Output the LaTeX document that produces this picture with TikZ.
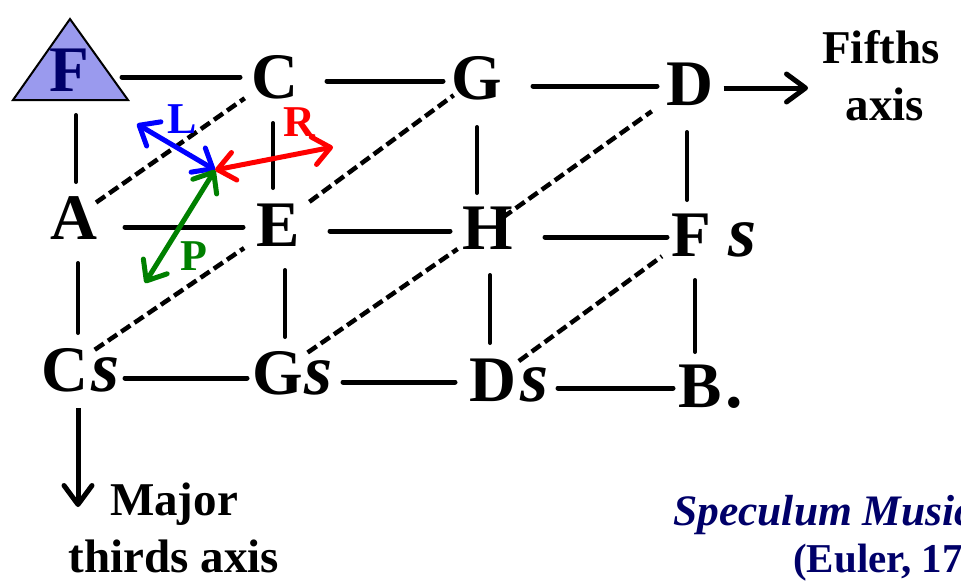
\documentclass[tikz,border=0pt]{standalone}
\usepackage{fontspec}
\setmainfont{Liberation Serif}
\usetikzlibrary{arrows.meta,calc}
\definecolor{navy}{RGB}{0,0,105}
\definecolor{trifill}{RGB}{154,154,238}
\definecolor{pgreen}{RGB}{0,128,0}
\tikzset{
  note/.style={inner sep=0pt, font=\fontsize{65}{65}\selectfont\bfseries},
  sfx/.style={inner sep=0pt, anchor=base west, font=\fontsize{72}{72}\selectfont\bfseries\itshape},
  dotsfx/.style={inner sep=0pt, anchor=base west, font=\fontsize{70}{70}\selectfont\bfseries},
  hl/.style={line width=5pt, line cap=round, transform canvas={yshift=#1}},
  vl/.style={line width=4pt, line cap=round, transform canvas={xshift=#1}},
  dline/.style={line width=4.5pt, dash pattern=on 11pt off 5pt},
  rel/.style={line width=5pt, line cap=round, <->, >={Straight Barb[length=17pt,width=28pt,round]}},
  rlabel/.style={inner sep=0pt, anchor=base, font=\fontsize{44}{44}\selectfont\bfseries},
  axisarrow/.style={line width=5pt, ->, >={Straight Barb[length=19pt,width=28pt,round]}},
  axislab/.style={inner sep=0pt, anchor=base, font=\fontsize{47}{56}\selectfont\bfseries},
  citeit/.style={inner sep=0pt, anchor=base west, text=navy, font=\fontsize{43.5}{50}\selectfont\bfseries\itshape},
  citeup/.style={inner sep=0pt, anchor=base west, text=navy, font=\fontsize{41}{48}\selectfont\bfseries},
  tri/.style={draw=black, line width=2pt, fill=trifill, line join=miter}
}
\begin{document}
\begin{tikzpicture}[x=1pt,y=-1pt]
\useasboundingbox (0,0) rectangle (961,584);
\clip (0,0) rectangle (961,584);
\fill[white] (0,0) rectangle (961,584);

% triangle around F
\filldraw[tri] (13,100) -- (70,19) -- (128,100) -- cycle;

% notes
\node[note, text=navy] (F) at (69,70) {F};
\node[note] (C) at (275,77) {C};
\node[note] (G) at (477,78) {G};
\node[note] (D) at (690,84) {D};
\node[note] (A) at (74,218) {A};
\node[note] (E) at (278,225) {E};
\node[note] (H) at (488,228) {H};
\node[note] (Fs) at (691,235) {F};
\node[note] (Cs) at (65,370) {C};
\node[note] (Gs) at (278,373) {G};
\node[note] (Ds) at (493,380) {D};
\node[note] (B) at (700,386) {B};
\node[sfx] (Fs-s) at ([xshift=17pt]Fs.base east) {s};
\node[sfx] (Cs-s) at ([xshift=3pt]Cs.base east) {s};
\node[sfx] (Gs-s) at ([xshift=1pt]Gs.base east) {s};
\node[sfx] (Ds-s) at ([xshift=4pt]Ds.base east) {s};
\node[dotsfx] (B-dot) at ([xshift=3pt]B.base east) {.};

% fifths (horizontal) lines
\draw[hl=-7pt, shorten <=53pt, shorten >=35pt] (F.center) -- (F.center -| C.center);
\draw[hl=-4pt, shorten <=52pt, shorten >=34pt] (C.center) -- (C.center -| G.center);
\draw[hl=-8pt, shorten <=56pt, shorten >=33pt] (G.center) -- (G.center -| D.center);
\draw[hl=-9pt, shorten <=51pt, shorten >=35pt] (A.center) -- (A.center -| E.center);
\draw[hl=-6pt, shorten <=52pt, shorten >=38pt] (E.center) -- (E.center -| H.center);
\draw[hl=-9pt, shorten <=57pt, shorten >=24pt] (H.center) -- (H.center -| Fs.center);
\draw[hl=-8pt, shorten <=60pt, shorten >=31pt] (Cs.center) -- (Cs.center -| Gs.center);
\draw[hl=-9pt, shorten <=65pt, shorten >=38pt] (Gs.center) -- (Gs.center -| Ds.center);
\draw[hl=-8pt, shorten <=65pt, shorten >=27pt] (Ds.center) -- (Ds.center -| B.center);

% major third (vertical) lines
\draw[vl=7pt, shorten <=45pt, shorten >=36pt] (F.center) -- (F.center |- A.center);
\draw[vl=-2pt, shorten <=46pt, shorten >=37pt] (C.center) -- (C.center |- E.center);
\draw[vl=0pt, shorten <=49pt, shorten >=35pt] (G.center) -- (G.center |- H.center);
\draw[vl=-3pt, shorten <=48pt, shorten >=35pt] (D.center) -- (D.center |- Fs.center);
\draw[vl=4pt, shorten <=45pt, shorten >=37pt] (A.center) -- (A.center |- Cs.center);
\draw[vl=7pt, shorten <=45pt, shorten >=36pt] (E.center) -- (E.center |- Gs.center);
\draw[vl=2pt, shorten <=47pt, shorten >=37pt] (H.center) -- (H.center |- Ds.center);
\draw[vl=4pt, shorten <=45pt, shorten >=34pt] (Fs.center) -- (Fs.center |- B.center);

% minor third (dashed diagonal) lines
\draw[dline, shorten <=27pt, shorten >=37pt] (A.center) -- (C.center);
\draw[dline, shorten <=39pt, shorten >=29pt] (E.center) -- (G.center);
\draw[dline, shorten <=18pt, shorten >=47pt] (H.center) -- (D.center);
\draw[dline, shorten <=36pt, shorten >=41pt] (Cs.center) -- (E.center);
\draw[dline, shorten <=36pt, shorten >=37pt] (Gs.center) -- (H.center);
\draw[dline, shorten <=32pt, shorten >=36pt] (Ds.center) -- (Fs.center);

% L, R, P transformations
\coordinate (O) at (215,170);
\coordinate (Lend) at (137,124);
\coordinate (Rend) at (333,147);
\coordinate (Pend) at (145,283);
\draw[rel, blue] (O) -- (Lend);
\draw[rel, red] (O) -- (Rend);
\draw[rel, pgreen] (O) -- (Pend);
\node[rlabel, text=blue] (Llab) at (182,133) {L};
\node[rlabel, text=red] (Rlab) at (299,136) {R};
\node[rlabel, text=pgreen] (Plab) at (194,270) {P};

% axes
\coordinate (fifthsend) at (808,88);
\draw[axisarrow, shorten <=10pt] (D.east |- fifthsend) -- (fifthsend);
\coordinate (thirdsend) at (78,507);
\draw[axisarrow, shorten <=16pt] (thirdsend |- Cs.south) -- (thirdsend);
\node[axislab] (fifths1) at (881,63) {Fifths};
\node[axislab] (fifths2) at (885,120) {axis};
\node[axislab] (major1) at (174,515) {Major};
\node[axislab] (major2) at (174,572) {thirds axis};

% citation
\node[citeit] (cite1) at (673,525) {Speculum Musicum};
\node[citeup] (cite2) at (793,572) {(Euler, 1773)};
\end{tikzpicture}
\end{document}
